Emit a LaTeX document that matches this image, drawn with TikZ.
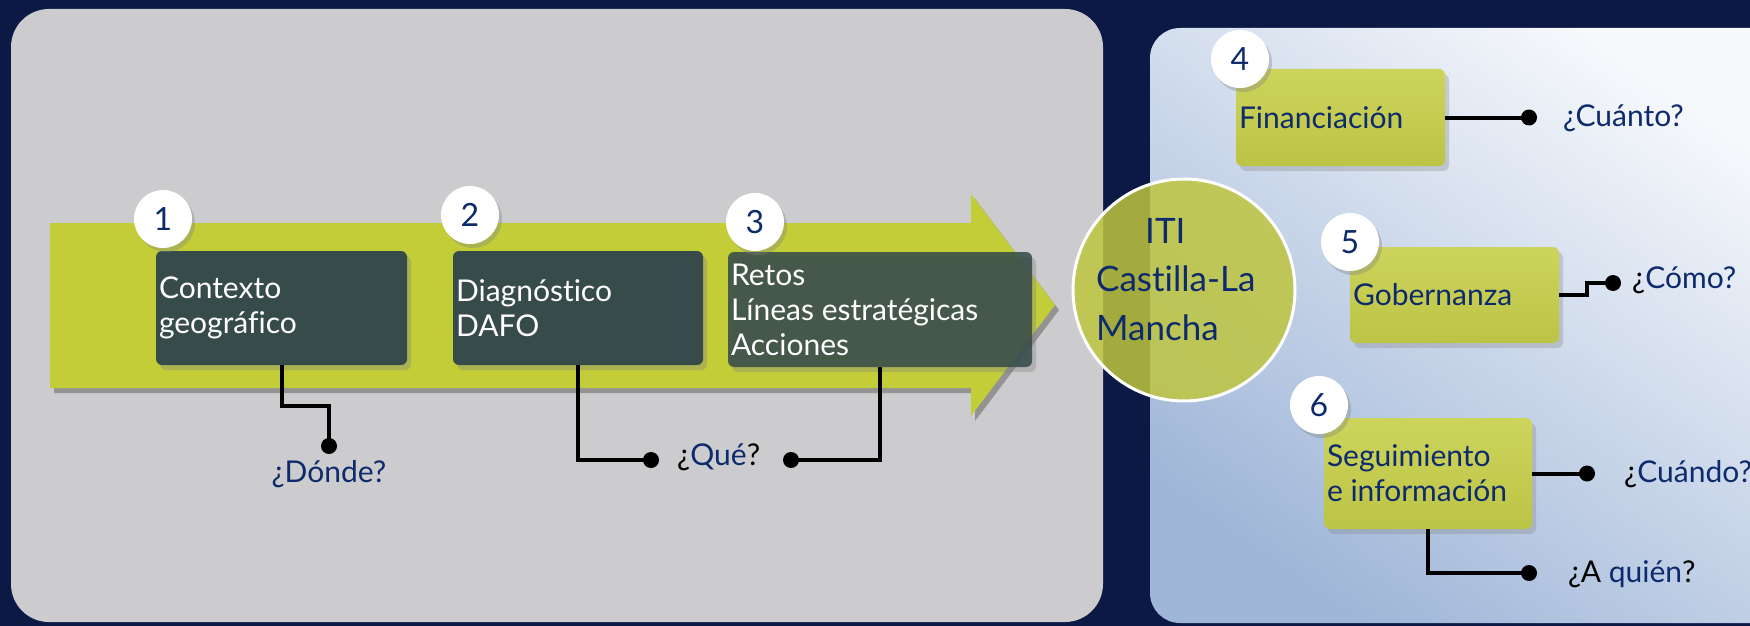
\documentclass[tikz,border=0pt]{standalone}
\usepackage{fontspec}
\setmainfont{Lato}[Ligatures=NoCommon]
\usetikzlibrary{shadows}
\definecolor{navybg}{HTML}{0B1944}
\definecolor{panelgrey}{HTML}{CCCCCE}
\definecolor{arrowgreen}{HTML}{C3CD38}
\definecolor{slate}{HTML}{374C4A}
\definecolor{boxgreen}{HTML}{BCC446}
\definecolor{boxgreenlight}{HTML}{CDD45B}
\definecolor{txtnavy}{HTML}{0D2A6C}
\definecolor{paneltop}{HTML}{F7F9FC}
\definecolor{panelbot}{HTML}{9FB6D8}
\definecolor{iticol}{HTML}{BEC53F}
\begin{document}
\begin{tikzpicture}[x=1pt,y=-1pt,
  darkbox/.style={fill=slate, rounded corners=6pt, inner xsep=3pt, inner ysep=0pt, align=left, text=white,
    font=\fontsize{30}{35}\selectfont, execute at begin node={\spaceskip=0pt\xspaceskip=0pt\relax},
    drop shadow={shadow xshift=4pt, shadow yshift=-5pt, opacity=0.35}},
  greenbox/.style={top color=boxgreenlight, bottom color=boxgreen, rounded corners=6pt, inner xsep=3pt, inner ysep=0pt,
    align=left, text=txtnavy, font=\fontsize{30}{35}\selectfont, execute at begin node={\spaceskip=0pt\xspaceskip=0pt\relax},
    drop shadow={shadow xshift=4pt, shadow yshift=-5pt, opacity=0.3}},
  numcirc/.style={circle, fill=white, minimum size=58pt, inner sep=0pt, text=txtnavy, font=\fontsize{32}{38}\selectfont,
    drop shadow={shadow xshift=3pt, shadow yshift=-4pt, opacity=0.35}},
  conn/.style={line width=4pt, black},
  question/.style={text=txtnavy, font=\fontsize{30}{35}\selectfont, inner sep=0pt},
]
\useasboundingbox (0,0) rectangle (1750,626);
\clip (0,0) rectangle (1750,626);
\fill[navybg] (0,0) rectangle (1750,626);
% panels
\fill[panelgrey, rounded corners=38pt] (11,9) rectangle (1103,622);
\shade[rounded corners=30pt, top color=paneltop, bottom color=panelbot, shading angle=-35] (1150,28) rectangle (1800,623);
% arrow shadow and arrow
\fill[black, opacity=0.28] (54,228) -- (975,228) -- (975,199) -- (1059,310) -- (975,421) -- (975,393) -- (54,393) -- cycle;
\fill[arrowgreen] (50,223) -- (971,223) -- (971,194) -- (1055,305) -- (971,416) -- (971,388) -- (50,388) -- cycle;
% dark boxes
\node[darkbox, text width=245pt, minimum height=114pt] (b1) at (281.5,308) {Contexto\\geográfico};
\node[darkbox, text width=244pt, minimum height=114pt] (b2) at (578,308) {Diagnóstico\\DAFO};
\node[darkbox, text width=298pt, minimum height=115pt, fill opacity=0.88, text opacity=1] (b3) at (880,309.5) {Retos\\Líneas estratégicas\\Acciones};
% green boxes
\node[greenbox, text width=203pt, minimum height=97pt] (b4) at (1340.5,117.5) {Financiación};
\node[greenbox, text width=203pt, minimum height=96pt] (b5) at (1454.5,295) {Gobernanza};
\node[greenbox, text width=202pt, minimum height=111pt] (b6) at (1428,473.5) {Seguimiento\\e información};
% number circles
\node[numcirc] (n1) at (163,219) {1};
\node[numcirc] (n2) at (470,215) {2};
\node[numcirc] (n3) at (755,222) {3};
\node[numcirc] (n4) at (1240,59) {4};
\node[numcirc] (n5) at (1350,242) {5};
\node[numcirc] (n6) at (1319,405) {6};
% ITI circle
\node[circle, draw=white, line width=3pt, minimum size=222pt, fill=iticol, fill opacity=0.85] (iti) at (1184,290) {};
\node[anchor=north west, inner sep=0pt, align=left, text=txtnavy, font=\fontsize{35}{48.5}\selectfont] (ititext) at (1096,218)
  {\hspace*{49pt}ITI\\Castilla-La\\Mancha};
% connectors
\coordinate (d1) at (329,446);
\coordinate (d2) at (651,460);
\coordinate (d3) at (791,460);
\coordinate (d4) at (1529,117.5);
\coordinate (d5) at (1613,283);
\coordinate (d6) at (1587,473.5);
\coordinate (d7) at (1529,573);
\draw[conn] (b1.south) -- ++(0,41) -| (d1);
\draw[conn] (b2.south) |- (d2);
\draw[conn] (b3.south) |- (d3);
\draw[conn] (b4.east) -- (d4);
\draw[conn] (b5.east) -- ++(28,0) |- (d5);
\draw[conn] (b6.east) -- (d6);
\draw[conn] (b6.south) |- (d7);
\foreach \d in {d1,d2,d3,d4,d5,d6,d7} \fill[black] (\d) circle (8pt);
% questions
\node[question, anchor=base] (q1) at (329,482) {¿Dónde?};
\node[question, anchor=base west] (q2) at (677,465) {\textcolor{black}{¿}Qué\textcolor{black}{?}};
\node[question, anchor=base west] (q4) at (1563,126) {¿Cuánto?};
\node[question, anchor=base west] (q5) at (1632,288) {\textcolor{black}{¿}Cómo?};
\node[question, anchor=base west] (q6) at (1624,482) {\textcolor{black}{¿}Cuándo?};
\node[question, anchor=base west] (q7) at (1568,582) {\textcolor{black}{¿A} quién\textcolor{black}{?}};
\end{tikzpicture}
\end{document}
